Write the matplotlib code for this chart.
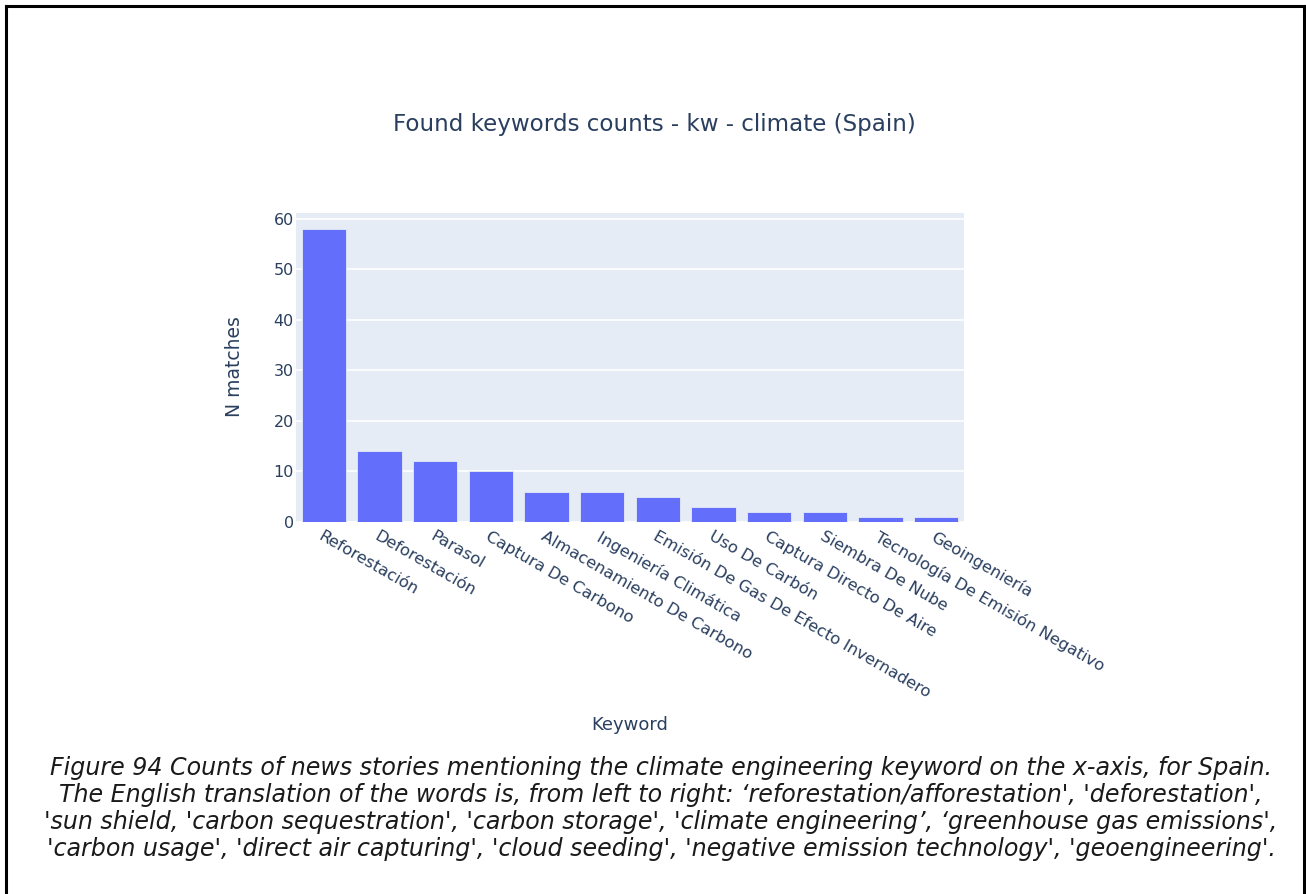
import matplotlib
matplotlib.use("Agg")
import matplotlib.pyplot as plt

keywords = ["Reforestación", "Deforestación", "Parasol", "Captura De Carbono",
            "Almacenamiento De Carbono", "Ingeniería Climática",
            "Emisión De Gas De Efecto Invernadero", "Uso De Carbón",
            "Captura Directo De Aire", "Siembra De Nube",
            "Tecnología De Emisión Negativo", "Geoingeniería"]
counts = [58, 14, 12, 10, 6, 6, 5, 3, 2, 2, 1, 1]
y_ticks = [0, 10, 20, 30, 40, 50, 60]

title = "Found keywords counts - kw - climate (Spain)"
xlabel = "Keyword"
ylabel = "N matches"
caption_lines = [
    "Figure 94 Counts of news stories mentioning the climate engineering keyword on the x-axis, for Spain.",
    "The English translation of the words is, from left to right: \u2018reforestation/afforestation', 'deforestation',",
    "'sun shield, 'carbon sequestration', 'carbon storage', 'climate engineering\u2019, \u2018greenhouse gas emissions',",
    "'carbon usage', 'direct air capturing', 'cloud seeding', 'negative emission technology', 'geoengineering'.",
]

TXT = "#2a3f5f"
W, H = 1306, 894
fig = plt.figure(figsize=(W / 100, H / 100), dpi=100)
fig.patch.set_facecolor("white")

L, R, T, B = 296, 964, 213, 522
ax = fig.add_axes([L / W, 1 - B / H, (R - L) / W, (B - T) / H])
ax.set_facecolor("#E5ECF6")
x = list(range(len(keywords)))
ax.bar(x, counts, width=0.8, color="#636EFA", edgecolor="#E5ECF6", linewidth=0.6, zorder=3)
ax.set_xlim(-0.5, len(keywords) - 0.5)
ax.set_ylim(0, 61.1)
ax.set_yticks(y_ticks)
ax.set_yticklabels([str(v) for v in y_ticks], fontsize=11.5, color=TXT)
ax.yaxis.grid(True, color="white", linewidth=1.2, zorder=1)
ax.set_axisbelow(True)
for s in ax.spines.values():
    s.set_visible(False)
ax.tick_params(axis="both", length=0)
ax.tick_params(axis="y", pad=1.5)
ax.set_xticks(x)
ax.set_xticklabels(keywords, rotation=-30, ha="left", va="top",
                   rotation_mode="anchor", fontsize=11.8, color=TXT)
ax.tick_params(axis="x", pad=5)

fig.text(654 / W, 1 - 125 / H, title, ha="center", va="center", fontsize=16.6, color=TXT)
fig.text(235 / W, 1 - 367 / H, ylabel, ha="center", va="center", rotation=90, fontsize=13.5, color=TXT)
fig.text(630 / W, 1 - 725 / H, xlabel, ha="center", va="center", fontsize=13, color=TXT)

# caption, fitted so the first line spans the reference width
cap_y = [768, 795, 822, 849]
renderer = fig.canvas.get_renderer()
probe = fig.text(0, 0, caption_lines[0], fontsize=15, style="italic", family="DejaVu Sans")
wpx = probe.get_window_extent(renderer).width
probe.remove()
cap_fs = 15 * 1229 / wpx
for line, yy in zip(caption_lines, cap_y):
    fig.text(661 / W, 1 - yy / H, line, ha="center", va="center", fontsize=cap_fs,
             style="italic", family="DejaVu Sans", color="#1a1a1a")

# frame (left, top, right)
for xs, ys in [([6, 6], [894, 6]), ([6, 1304], [6, 6]), ([1304, 1304], [6, 894])]:
    fig.add_artist(plt.Line2D([v / W for v in xs], [1 - v / H for v in ys],
                              color="black", linewidth=2.2, transform=fig.transFigure))

fig.savefig("out.png", dpi=100)
